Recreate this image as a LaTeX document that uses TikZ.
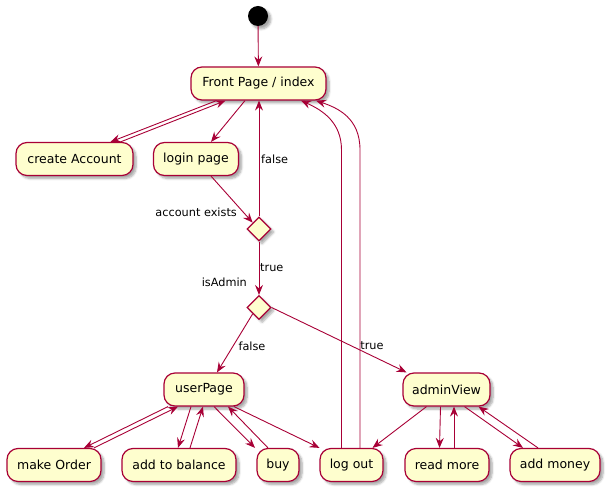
\documentclass[tikz,border=0pt]{standalone}
\usepackage{fontspec}
\setmainfont{DejaVu Sans}
\usetikzlibrary{arrows.meta,shapes.geometric,shadows.blur}
\definecolor{umlred}{HTML}{A80036}
\definecolor{umlfill}{HTML}{FEFECE}

\begin{document}
\begin{tikzpicture}[x=1pt,y=-1pt,
    umlshadow/.style={blur shadow={shadow xshift=3pt,shadow yshift=-3pt,shadow opacity=35,shadow blur steps=6}},
    activity/.style={draw=umlred,fill=umlfill,line width=1.2pt,rounded corners=11pt,
        minimum height=33pt,inner sep=0pt,font=\fontsize{12.5}{14}\selectfont,umlshadow},
    choice/.style={diamond,draw=umlred,fill=umlfill,line width=1.2pt,
        minimum width=24pt,minimum height=24pt,inner sep=0pt,umlshadow},
    startdot/.style={circle,fill=black,minimum size=20pt,inner sep=0pt,umlshadow},
    flow/.style={draw=umlred,line width=0.9pt,-{Stealth[length=10pt,width=8pt,inset=3.5pt]}},
    lbl/.style={font=\fontsize{11.3}{13}\selectfont,inner sep=0pt}]
            \useasboundingbox (0,0) rectangle (609,494);

            % nodes
            \node (start) at (258,16) [startdot] {};
            \node (front) at (258.5,83.5) [activity,minimum width=135pt] {Front Page / index};
            \node (create) at (74.5,159) [activity,minimum width=117pt] {create Account};
            \node (login) at (196,159) [activity,minimum width=85pt] {login page};
            \node (exists) at (259,229) [choice] {};
            \node (admin) at (259,307.5) [choice] {};
            \node (user) at (204,389.5) [activity,minimum width=80pt] {userPage};
            \node (view) at (446.5,389.5) [activity,minimum width=87pt] {adminView};
            \node (order) at (54,465) [activity,minimum width=94pt] {make Order};
            \node (balance) at (179,465) [activity,minimum width=114pt] {add to balance};
            \node (buy) at (278,465) [activity,minimum width=42pt] {buy};
            \node (logout) at (351.5,465) [activity,minimum width=63pt] {log out};
            \node (more) at (447,465) [activity,minimum width=84pt] {read more};
            \node (money) at (555,465) [activity,minimum width=90pt] {add money};

            % labels
            \node (lfalse1) at (261,159) [lbl,anchor=west] {false};
            \node (ltrue1) at (260,268) [lbl,anchor=west] {true};
            \node (lexists) at (237,212) [lbl,anchor=east] {account exists};
            \node (ladmin) at (247,282) [lbl,anchor=east] {isAdmin};
            \node (lfalse2) at (252,346) [lbl] {false};
            \node (ltrue2) at (372,346) [lbl] {true};

            % edges
            \draw[flow] (start) -- (front);
            \draw[flow] ([xshift=-42pt]front.south) -- ([xshift=36pt]create.north);
            \draw[flow] ([xshift=46pt]create.north) -- ([xshift=-33pt]front.south);
            \draw[flow] ([xshift=-13.5pt]front.south) -- ([xshift=15pt]login.north);
            \draw[flow] ([xshift=15pt]login.south) -- (exists.north west);
            \draw[flow] (exists.north) -- (exists.north |- front.south);
            \draw[flow] (exists.south) -- (admin.north);
            \draw[flow] (admin.south west) -- ([xshift=13pt]user.north);
            \draw[flow] (admin.east) -- ([xshift=-40pt]view.north);

            \draw[flow] ([xshift=-36pt]user.south) -- ([xshift=30pt]order.north);
            \draw[flow] ([xshift=40pt]order.north) -- ([xshift=-26pt]user.south);
            \draw[flow] ([xshift=-13pt]user.south) -- ([xshift=-1pt]balance.north);
            \draw[flow] ([xshift=11pt]balance.north) -- ([xshift=-1pt]user.south);
            \draw[flow] ([xshift=10pt]user.south) -- ([xshift=-23pt]buy.north);
            \draw[flow] ([xshift=-10pt]buy.north) -- ([xshift=24pt]user.south);
            \draw[flow] ([xshift=30pt]user.south) -- ([xshift=-32pt]logout.north);

            \coordinate (bendA) at (341.5,150);
            \coordinate (bendB) at (360,150);
            \draw[flow] ([xshift=-10pt]logout.north) -- (bendA)
                .. controls (341.5,122) and (322,110) .. ([xshift=42.5pt]front.south);
            \draw[flow] ([xshift=8.5pt]logout.north) -- (bendB)
                .. controls (360,118) and (338,108) .. ([xshift=57.5pt]front.south);

            \draw[flow] ([xshift=-20pt]view.south) -- ([xshift=21pt]logout.north);
            \draw[flow] ([xshift=-6pt]view.south) -- ([xshift=-7.5pt]more.north);
            \draw[flow] ([xshift=7pt]more.north) -- ([xshift=7.5pt]view.south);
            \draw[flow] ([xshift=18pt]view.south) -- ([xshift=-32pt]money.north);
            \draw[flow] ([xshift=-17pt]money.north) -- ([xshift=32pt]view.south);
        \end{tikzpicture}
\end{document}
